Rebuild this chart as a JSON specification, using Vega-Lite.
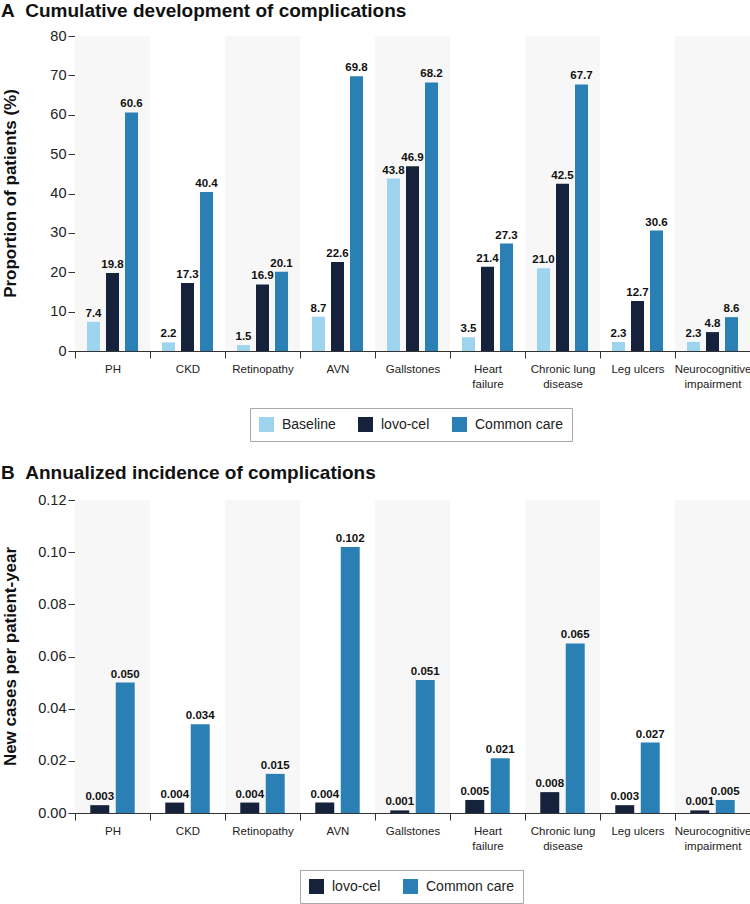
{
  "$schema": "https://vega.github.io/schema/vega-lite/v6.json",
  "background": "white",
  "padding": {"left": 1, "top": 2, "right": 0, "bottom": 0},
  "spacing": 22,
  "config": {
    "view": {"stroke": null},
    "font": "Liberation Sans",
    "axis": {
      "grid": false,
      "domainColor": "#333333",
      "tickColor": "#333333",
      "labelColor": "#222222",
      "labelFont": "Liberation Sans",
      "titleFont": "Liberation Sans",
      "titleFontWeight": "bold",
      "titleColor": "#111111",
      "titleFontSize": 17,
      "tickSize": 7
    },
    "legend": {
      "orient": "none",
      "direction": "horizontal",
      "symbolType": "square",
      "symbolSize": 225,
      "symbolStrokeWidth": 0,
      "labelFontSize": 14,
      "labelColor": "#222222",
      "labelFont": "Liberation Sans",
      "labelOffset": 8,
      "columnPadding": 22,
      "padding": 9,
      "strokeColor": "#a8a8a8"
    },
    "title": {
      "anchor": "start",
      "frame": "bounds",
      "fontSize": 19,
      "fontWeight": "bold",
      "color": "#111111",
      "font": "Liberation Sans"
    }
  },
  "datasets": {
    "cumulative": [
      {"complication": "PH", "group": "Baseline", "value": 7.4},
      {"complication": "PH", "group": "lovo-cel", "value": 19.8},
      {"complication": "PH", "group": "Common care", "value": 60.6},
      {"complication": "CKD", "group": "Baseline", "value": 2.2},
      {"complication": "CKD", "group": "lovo-cel", "value": 17.3},
      {"complication": "CKD", "group": "Common care", "value": 40.4},
      {"complication": "Retinopathy", "group": "Baseline", "value": 1.5},
      {"complication": "Retinopathy", "group": "lovo-cel", "value": 16.9},
      {"complication": "Retinopathy", "group": "Common care", "value": 20.1},
      {"complication": "AVN", "group": "Baseline", "value": 8.7},
      {"complication": "AVN", "group": "lovo-cel", "value": 22.6},
      {"complication": "AVN", "group": "Common care", "value": 69.8},
      {"complication": "Gallstones", "group": "Baseline", "value": 43.8},
      {"complication": "Gallstones", "group": "lovo-cel", "value": 46.9},
      {"complication": "Gallstones", "group": "Common care", "value": 68.2},
      {"complication": "Heart failure", "group": "Baseline", "value": 3.5},
      {"complication": "Heart failure", "group": "lovo-cel", "value": 21.4},
      {"complication": "Heart failure", "group": "Common care", "value": 27.3},
      {"complication": "Chronic lung disease", "group": "Baseline", "value": 21.0},
      {"complication": "Chronic lung disease", "group": "lovo-cel", "value": 42.5},
      {"complication": "Chronic lung disease", "group": "Common care", "value": 67.7},
      {"complication": "Leg ulcers", "group": "Baseline", "value": 2.3},
      {"complication": "Leg ulcers", "group": "lovo-cel", "value": 12.7},
      {"complication": "Leg ulcers", "group": "Common care", "value": 30.6},
      {"complication": "Neurocognitive impairment", "group": "Baseline", "value": 2.3},
      {"complication": "Neurocognitive impairment", "group": "lovo-cel", "value": 4.8},
      {"complication": "Neurocognitive impairment", "group": "Common care", "value": 8.6}
    ],
    "annualized": [
      {"complication": "PH", "group": "lovo-cel", "value": 0.003},
      {"complication": "PH", "group": "Common care", "value": 0.050},
      {"complication": "CKD", "group": "lovo-cel", "value": 0.004},
      {"complication": "CKD", "group": "Common care", "value": 0.034},
      {"complication": "Retinopathy", "group": "lovo-cel", "value": 0.004},
      {"complication": "Retinopathy", "group": "Common care", "value": 0.015},
      {"complication": "AVN", "group": "lovo-cel", "value": 0.004},
      {"complication": "AVN", "group": "Common care", "value": 0.102},
      {"complication": "Gallstones", "group": "lovo-cel", "value": 0.001},
      {"complication": "Gallstones", "group": "Common care", "value": 0.051},
      {"complication": "Heart failure", "group": "lovo-cel", "value": 0.005},
      {"complication": "Heart failure", "group": "Common care", "value": 0.021},
      {"complication": "Chronic lung disease", "group": "lovo-cel", "value": 0.008},
      {"complication": "Chronic lung disease", "group": "Common care", "value": 0.065},
      {"complication": "Leg ulcers", "group": "lovo-cel", "value": 0.003},
      {"complication": "Leg ulcers", "group": "Common care", "value": 0.027},
      {"complication": "Neurocognitive impairment", "group": "lovo-cel", "value": 0.001},
      {"complication": "Neurocognitive impairment", "group": "Common care", "value": 0.005}
    ]
  },
  "resolve": {
    "scale": {"x": "independent", "y": "independent", "xOffset": "independent", "color": "independent"},
    "legend": {"color": "independent"}
  },
  "vconcat": [
    {
      "title": {"text": "A\u00a0\u00a0Cumulative development of complications", "offset": 7},
      "width": 675,
      "height": 315,
      "data": {"name": "cumulative"},
      "encoding": {
        "x": {
          "field": "complication",
          "type": "nominal",
          "scale": {
            "domain": ["PH", "CKD", "Retinopathy", "AVN", "Gallstones", "Heart failure", "Chronic lung disease", "Leg ulcers", "Neurocognitive impairment"],
            "paddingInner": 0,
            "paddingOuter": 0
          },
          "axis": {
            "title": null,
            "labelAngle": 0,
            "tickBand": "extent",
            "labelFontSize": 11.5,
            "labelPadding": 5,
            "labelLineHeight": 15,
            "labelExpr": "datum.value == 'Heart failure' ? ['Heart', 'failure'] : datum.value == 'Chronic lung disease' ? ['Chronic lung', 'disease'] : datum.value == 'Neurocognitive impairment' ? ['Neurocognitive', 'impairment'] : datum.value"
          }
        }
      },
      "layer": [
        {
          "transform": [
            {"filter": {"field": "group", "equal": "Baseline"}},
            {"filter": {"field": "complication", "oneOf": ["PH", "Retinopathy", "Gallstones", "Chronic lung disease", "Neurocognitive impairment"]}}
          ],
          "mark": {"type": "bar", "color": "#f7f7f7"},
          "encoding": {}
        },
        {
          "mark": {"type": "bar"},
          "encoding": {
            "xOffset": {
              "field": "group",
              "type": "nominal",
              "scale": {"domain": ["Baseline", "lovo-cel", "Common care"], "paddingInner": 0.316, "paddingOuter": 0.63}
            },
            "y": {
              "field": "value",
              "type": "quantitative",
              "scale": {"domain": [0, 80], "nice": false},
              "axis": {
                "title": "Proportion of patients (%)",
                "values": [0, 10, 20, 30, 40, 50, 60, 70, 80],
                "labelFontSize": 14.5,
                "labelPadding": 2,
                "labelOverlap": false,
                "titleX": -56,
                "titleY": 157
              }
            },
            "color": {
              "field": "group",
              "type": "nominal",
              "scale": {"domain": ["Baseline", "lovo-cel", "Common care"], "range": ["#9fd4ee", "#16213b", "#2a80b4"]},
              "legend": {"title": null, "legendX": 175, "legendY": 372}
            }
          }
        },
        {
          "mark": {"type": "text", "baseline": "bottom", "dy": -3, "font": "Liberation Sans", "fontWeight": "bold", "fontSize": 11.5, "color": "#111111"},
          "encoding": {
            "xOffset": {"field": "group", "type": "nominal"},
            "y": {
              "field": "value",
              "type": "quantitative",
              "axis": {
                "title": "Proportion of patients (%)",
                "values": [0, 10, 20, 30, 40, 50, 60, 70, 80],
                "labelFontSize": 14.5,
                "labelPadding": 2,
                "labelOverlap": false,
                "titleX": -56,
                "titleY": 157
              }
            },
            "text": {"field": "value", "type": "quantitative", "format": ".1f"}
          }
        }
      ]
    },
    {
      "title": {"text": "B\u00a0\u00a0Annualized incidence of complications", "offset": 9},
      "width": 675,
      "height": 313,
      "data": {"name": "annualized"},
      "encoding": {
        "x": {
          "field": "complication",
          "type": "nominal",
          "scale": {
            "domain": ["PH", "CKD", "Retinopathy", "AVN", "Gallstones", "Heart failure", "Chronic lung disease", "Leg ulcers", "Neurocognitive impairment"],
            "paddingInner": 0,
            "paddingOuter": 0
          },
          "axis": {
            "title": null,
            "labelAngle": 0,
            "tickBand": "extent",
            "labelFontSize": 11.5,
            "labelPadding": 5,
            "labelLineHeight": 15,
            "labelExpr": "datum.value == 'Heart failure' ? ['Heart', 'failure'] : datum.value == 'Chronic lung disease' ? ['Chronic lung', 'disease'] : datum.value == 'Neurocognitive impairment' ? ['Neurocognitive', 'impairment'] : datum.value"
          }
        }
      },
      "layer": [
        {
          "transform": [
            {"filter": {"field": "group", "equal": "lovo-cel"}},
            {"filter": {"field": "complication", "oneOf": ["PH", "Retinopathy", "Gallstones", "Chronic lung disease", "Neurocognitive impairment"]}}
          ],
          "mark": {"type": "bar", "color": "#f7f7f7"},
          "encoding": {}
        },
        {
          "mark": {"type": "bar"},
          "encoding": {
            "xOffset": {
              "field": "group",
              "type": "nominal",
              "scale": {"domain": ["lovo-cel", "Common care"], "paddingInner": 0.255, "paddingOuter": 0.6}
            },
            "y": {
              "field": "value",
              "type": "quantitative",
              "scale": {"domain": [0, 0.12], "nice": false},
              "axis": {
                "title": "New cases per patient-year",
                "values": [0, 0.02, 0.04, 0.06, 0.08, 0.1, 0.12],
                "format": ".2f",
                "labelFontSize": 14.5,
                "labelPadding": 2,
                "labelOverlap": false,
                "titleX": -56,
                "titleY": 156
              }
            },
            "color": {
              "field": "group",
              "type": "nominal",
              "scale": {"domain": ["lovo-cel", "Common care"], "range": ["#16213b", "#2a80b4"]},
              "legend": {"title": null, "legendX": 225, "legendY": 370}
            }
          }
        },
        {
          "mark": {"type": "text", "baseline": "bottom", "dy": -3, "font": "Liberation Sans", "fontWeight": "bold", "fontSize": 11.5, "color": "#111111"},
          "encoding": {
            "xOffset": {"field": "group", "type": "nominal"},
            "y": {
              "field": "value",
              "type": "quantitative",
              "axis": {
                "title": "New cases per patient-year",
                "values": [0, 0.02, 0.04, 0.06, 0.08, 0.1, 0.12],
                "format": ".2f",
                "labelFontSize": 14.5,
                "labelPadding": 2,
                "labelOverlap": false,
                "titleX": -56,
                "titleY": 156
              }
            },
            "text": {"field": "value", "type": "quantitative", "format": ".3f"}
          }
        }
      ]
    }
  ]
}
